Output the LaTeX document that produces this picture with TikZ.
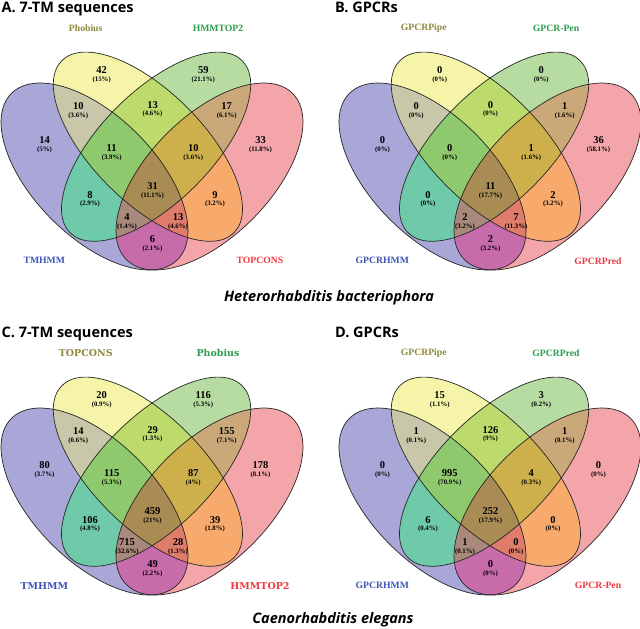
\documentclass[tikz,border=0pt]{standalone}
\usepackage{fontspec}
\setmainfont{Liberation Serif}
\newfontfamily\titlefont{Open Sans}
\newfontfamily\dvfont{DejaVu Serif}
\definecolor{cB}{HTML}{A9A7D7}
\definecolor{cY}{HTML}{F6F4A8}
\definecolor{cG}{HTML}{B6DCA2}
\definecolor{cR}{HTML}{F4A5A9}
\definecolor{cBY}{HTML}{C8C7A9}
\definecolor{cYG}{HTML}{BDDA6C}
\definecolor{cGR}{HTML}{CAA879}
\definecolor{cBG}{HTML}{6FCAA9}
\definecolor{cYR}{HTML}{F8AA6D}
\definecolor{cBR}{HTML}{C86BAB}
\definecolor{cBYG}{HTML}{8ECA6D}
\definecolor{cYGR}{HTML}{CDB04B}
\definecolor{cBGR}{HTML}{A8897B}
\definecolor{cBYR}{HTML}{E07C6C}
\definecolor{cALL}{HTML}{A98C53}
\definecolor{lTL}{HTML}{8D8A3E}
\definecolor{lTR}{HTML}{2C9C4E}
\definecolor{lBL}{HTML}{3E55B5}
\definecolor{lBR}{HTML}{EE3A43}
\newcommand\EllB[1]{\path[#1,shift={(94.5,176.5)},rotate=-45] (0,0) ellipse [x radius=117.5pt,y radius=60.5pt];}
\newcommand\EllY[1]{\path[#1,shift={(147.9,146.7)},rotate=-45] (0,0) ellipse [x radius=121.7pt,y radius=55.5pt];}
\newcommand\EllG[1]{\path[#1,shift={(156.1,146.7)},rotate=45] (0,0) ellipse [x radius=121.7pt,y radius=55.5pt];}
\newcommand\EllR[1]{\path[#1,shift={(209.5,176.5)},rotate=45] (0,0) ellipse [x radius=117.5pt,y radius=60.5pt];}
\newcommand\Reg[2]{\begin{scope}#1\fill[#2] (-5,-5) rectangle (320,300);\end{scope}}
\newcommand\Panel{%
  \Reg{\EllB{clip}}{cB}\Reg{\EllY{clip}}{cY}\Reg{\EllG{clip}}{cG}\Reg{\EllR{clip}}{cR}%
  \Reg{\EllB{clip}\EllY{clip}}{cBY}\Reg{\EllY{clip}\EllG{clip}}{cYG}%
  \Reg{\EllG{clip}\EllR{clip}}{cGR}\Reg{\EllB{clip}\EllG{clip}}{cBG}%
  \Reg{\EllY{clip}\EllR{clip}}{cYR}\Reg{\EllB{clip}\EllR{clip}}{cBR}%
  \Reg{\EllB{clip}\EllY{clip}\EllG{clip}}{cBYG}\Reg{\EllY{clip}\EllG{clip}\EllR{clip}}{cYGR}%
  \Reg{\EllB{clip}\EllG{clip}\EllR{clip}}{cBGR}\Reg{\EllB{clip}\EllY{clip}\EllR{clip}}{cBYR}%
  \Reg{\EllB{clip}\EllY{clip}\EllG{clip}\EllR{clip}}{cALL}%
  \EllB{outline}\EllY{outline}\EllG{outline}\EllR{outline}}
\newcommand\Num[5]{\node[numlab] (#1) at (#2,#3) {{\fontsize{10.5}{7.8}\selectfont #4}\\#5};}
\newcommand\Vals[9]{%
  \Num{#1b}{44.5}{144.7}{#2}{#3}%
  \Num{#1y}{101.7}{75}{#4}{#5}%
  \Num{#1g}{203.3}{75}{#6}{#7}%
  \Num{#1r}{260.5}{144.7}{#8}{#9}%
  \ValsB}
\newcommand\ValsB[8]{%
  \Num{\vp by}{78.3}{111}{#1}{#2}%
  \Num{\vp yg}{152.5}{109.2}{#3}{#4}%
  \Num{\vp gr}{226.7}{111}{#5}{#6}%
  \Num{\vp byg}{111.7}{152.5}{#7}{#8}%
  \ValsC}
\newcommand\ValsC[8]{%
  \Num{\vp ygr}{193.3}{152.5}{#1}{#2}%
  \Num{\vp all}{152.5}{190.8}{#3}{#4}%
  \Num{\vp bg}{90}{199.2}{#5}{#6}%
  \Num{\vp yr}{215}{199.2}{#7}{#8}%
  \ValsD}
\newcommand\ValsD[6]{%
  \Num{\vp bgr}{127}{221.5}{#1}{#2}%
  \Num{\vp byr}{178}{221.5}{#3}{#4}%
  \Num{\vp br}{152.5}{244}{#5}{#6}}
\begin{document}
\begin{tikzpicture}[x=1pt,y=-1pt,
  outline/.style={draw=black!85,line width=0.7pt},
  numlab/.style={align=center,inner sep=0pt,font=\bfseries\fontsize{6.8}{7.8}\selectfont},
  setlab/.style={inner sep=0pt,font=\bfseries\fontsize{9.7}{11}\selectfont},
  ptitle/.style={anchor=base west,inner sep=0pt,font=\titlefont\bfseries\fontsize{14.5}{16}\selectfont},
  pcaption/.style={inner sep=0pt,font=\titlefont\bfseries\itshape\fontsize{14.5}{16}\selectfont}]
\fill[white] (0,0) rectangle (640,629);
\useasboundingbox (0,0) rectangle (640,629);
% Panel A
\begin{scope}
\Panel
\def\vp{a}
\Vals{a}{14}{(5\%)}{42}{(15\%)}{59}{(21.1\%)}{33}{(11.8\%)}%
 {10}{(3.6\%)}{13}{(4.6\%)}{17}{(6.1\%)}{11}{(3.9\%)}%
 {10}{(3.6\%)}{31}{(11.1\%)}{8}{(2.9\%)}{9}{(3.2\%)}%
 {4}{(1.4\%)}{13}{(4.6\%)}{6}{(2.1\%)}
\node[setlab,text=lTL] (aL1) at (85.7,28.3) {Phobius};
\node[setlab,text=lTR] (aL2) at (218,28.3) {HMMTOP2};
\node[setlab,text=lBL] (aL3) at (44.3,260.7) {TMHMM};
\node[setlab,text=lBR] (aL4) at (260,260.7) {TOPCONS};
\end{scope}
% Panel B
\begin{scope}[shift={(338,0)}]
\Panel
\def\vp{b}
\Vals{b}{0}{(0\%)}{0}{(0\%)}{0}{(0\%)}{36}{(58.1\%)}%
 {0}{(0\%)}{0}{(0\%)}{1}{(1.6\%)}{0}{(0\%)}%
 {1}{(1.6\%)}{11}{(17.7\%)}{0}{(0\%)}{2}{(3.2\%)}%
 {2}{(3.2\%)}{7}{(11.3\%)}{2}{(3.2\%)}
\node[setlab,text=lTL] (bL1) at (85.7,28.3) {GPCRPipe};
\node[setlab,text=lTR] (bL2) at (218,28.3) {GPCR-Pen};
\node[setlab,text=lBL] (bL3) at (44.3,260.7) {GPCRHMM};
\node[setlab,text=lBR] (bL4) at (260,260.7) {GPCRPred};
\end{scope}
% Panel C
\begin{scope}[shift={(0,325)},every node/.append style={font=\dvfont\bfseries\fontsize{6.5}{7.8}\selectfont}]
\Panel
\def\vp{c}
\Vals{c}{80}{(3.7\%)}{20}{(0.9\%)}{116}{(5.3\%)}{178}{(8.1\%)}%
 {14}{(0.6\%)}{29}{(1.3\%)}{155}{(7.1\%)}{115}{(5.3\%)}%
 {87}{(4\%)}{459}{(21\%)}{106}{(4.8\%)}{39}{(1.8\%)}%
 {715}{(32.6\%)}{28}{(1.3\%)}{49}{(2.2\%)}
\node[setlab,text=lTL,font=\dvfont\bfseries\fontsize{9.5}{11}\selectfont] (cL1) at (85.7,28.3) {TOPCONS};
\node[setlab,text=lTR,font=\dvfont\bfseries\fontsize{9.5}{11}\selectfont] (cL2) at (218,28.3) {Phobius};
\node[setlab,text=lBL,font=\dvfont\bfseries\fontsize{9.5}{11}\selectfont] (cL3) at (44.3,260.7) {TMHMM};
\node[setlab,text=lBR,font=\dvfont\bfseries\fontsize{9.5}{11}\selectfont] (cL4) at (260,260.7) {HMMTOP2};
\end{scope}
% Panel D
\begin{scope}[shift={(338,325)}]
\Panel
\def\vp{d}
\Vals{d}{0}{(0\%)}{15}{(1.1\%)}{3}{(0.2\%)}{0}{(0\%)}%
 {1}{(0.1\%)}{126}{(9\%)}{1}{(0.1\%)}{995}{(70.9\%)}%
 {4}{(0.3\%)}{252}{(17.9\%)}{6}{(0.4\%)}{0}{(0\%)}%
 {1}{(0.1\%)}{0}{(0\%)}{0}{(0\%)}
\node[setlab,text=lTL] (dL1) at (85.7,28.3) {GPCRPipe};
\node[setlab,text=lTR] (dL2) at (218,28.3) {GPCRPred};
\node[setlab,text=lBL] (dL3) at (44.3,260.7) {GPCRHMM};
\node[setlab,text=lBR] (dL4) at (260,260.7) {GPCR-Pen};
\end{scope}
% titles and captions
\node[ptitle] (tA) at (1.5,12.7) {A. 7-TM sequences};
\node[ptitle] (tB) at (335,12.7) {B. GPCRs};
\node[ptitle] (tC) at (1.5,337) {C. 7-TM sequences};
\node[ptitle] (tD) at (335,337) {D. GPCRs};
\node[pcaption] (cap1) at (329,298) {Heterorhabditis bacteriophora};
\node[pcaption] (cap2) at (333,620) {Caenorhabditis elegans};
\end{tikzpicture}
\end{document}
